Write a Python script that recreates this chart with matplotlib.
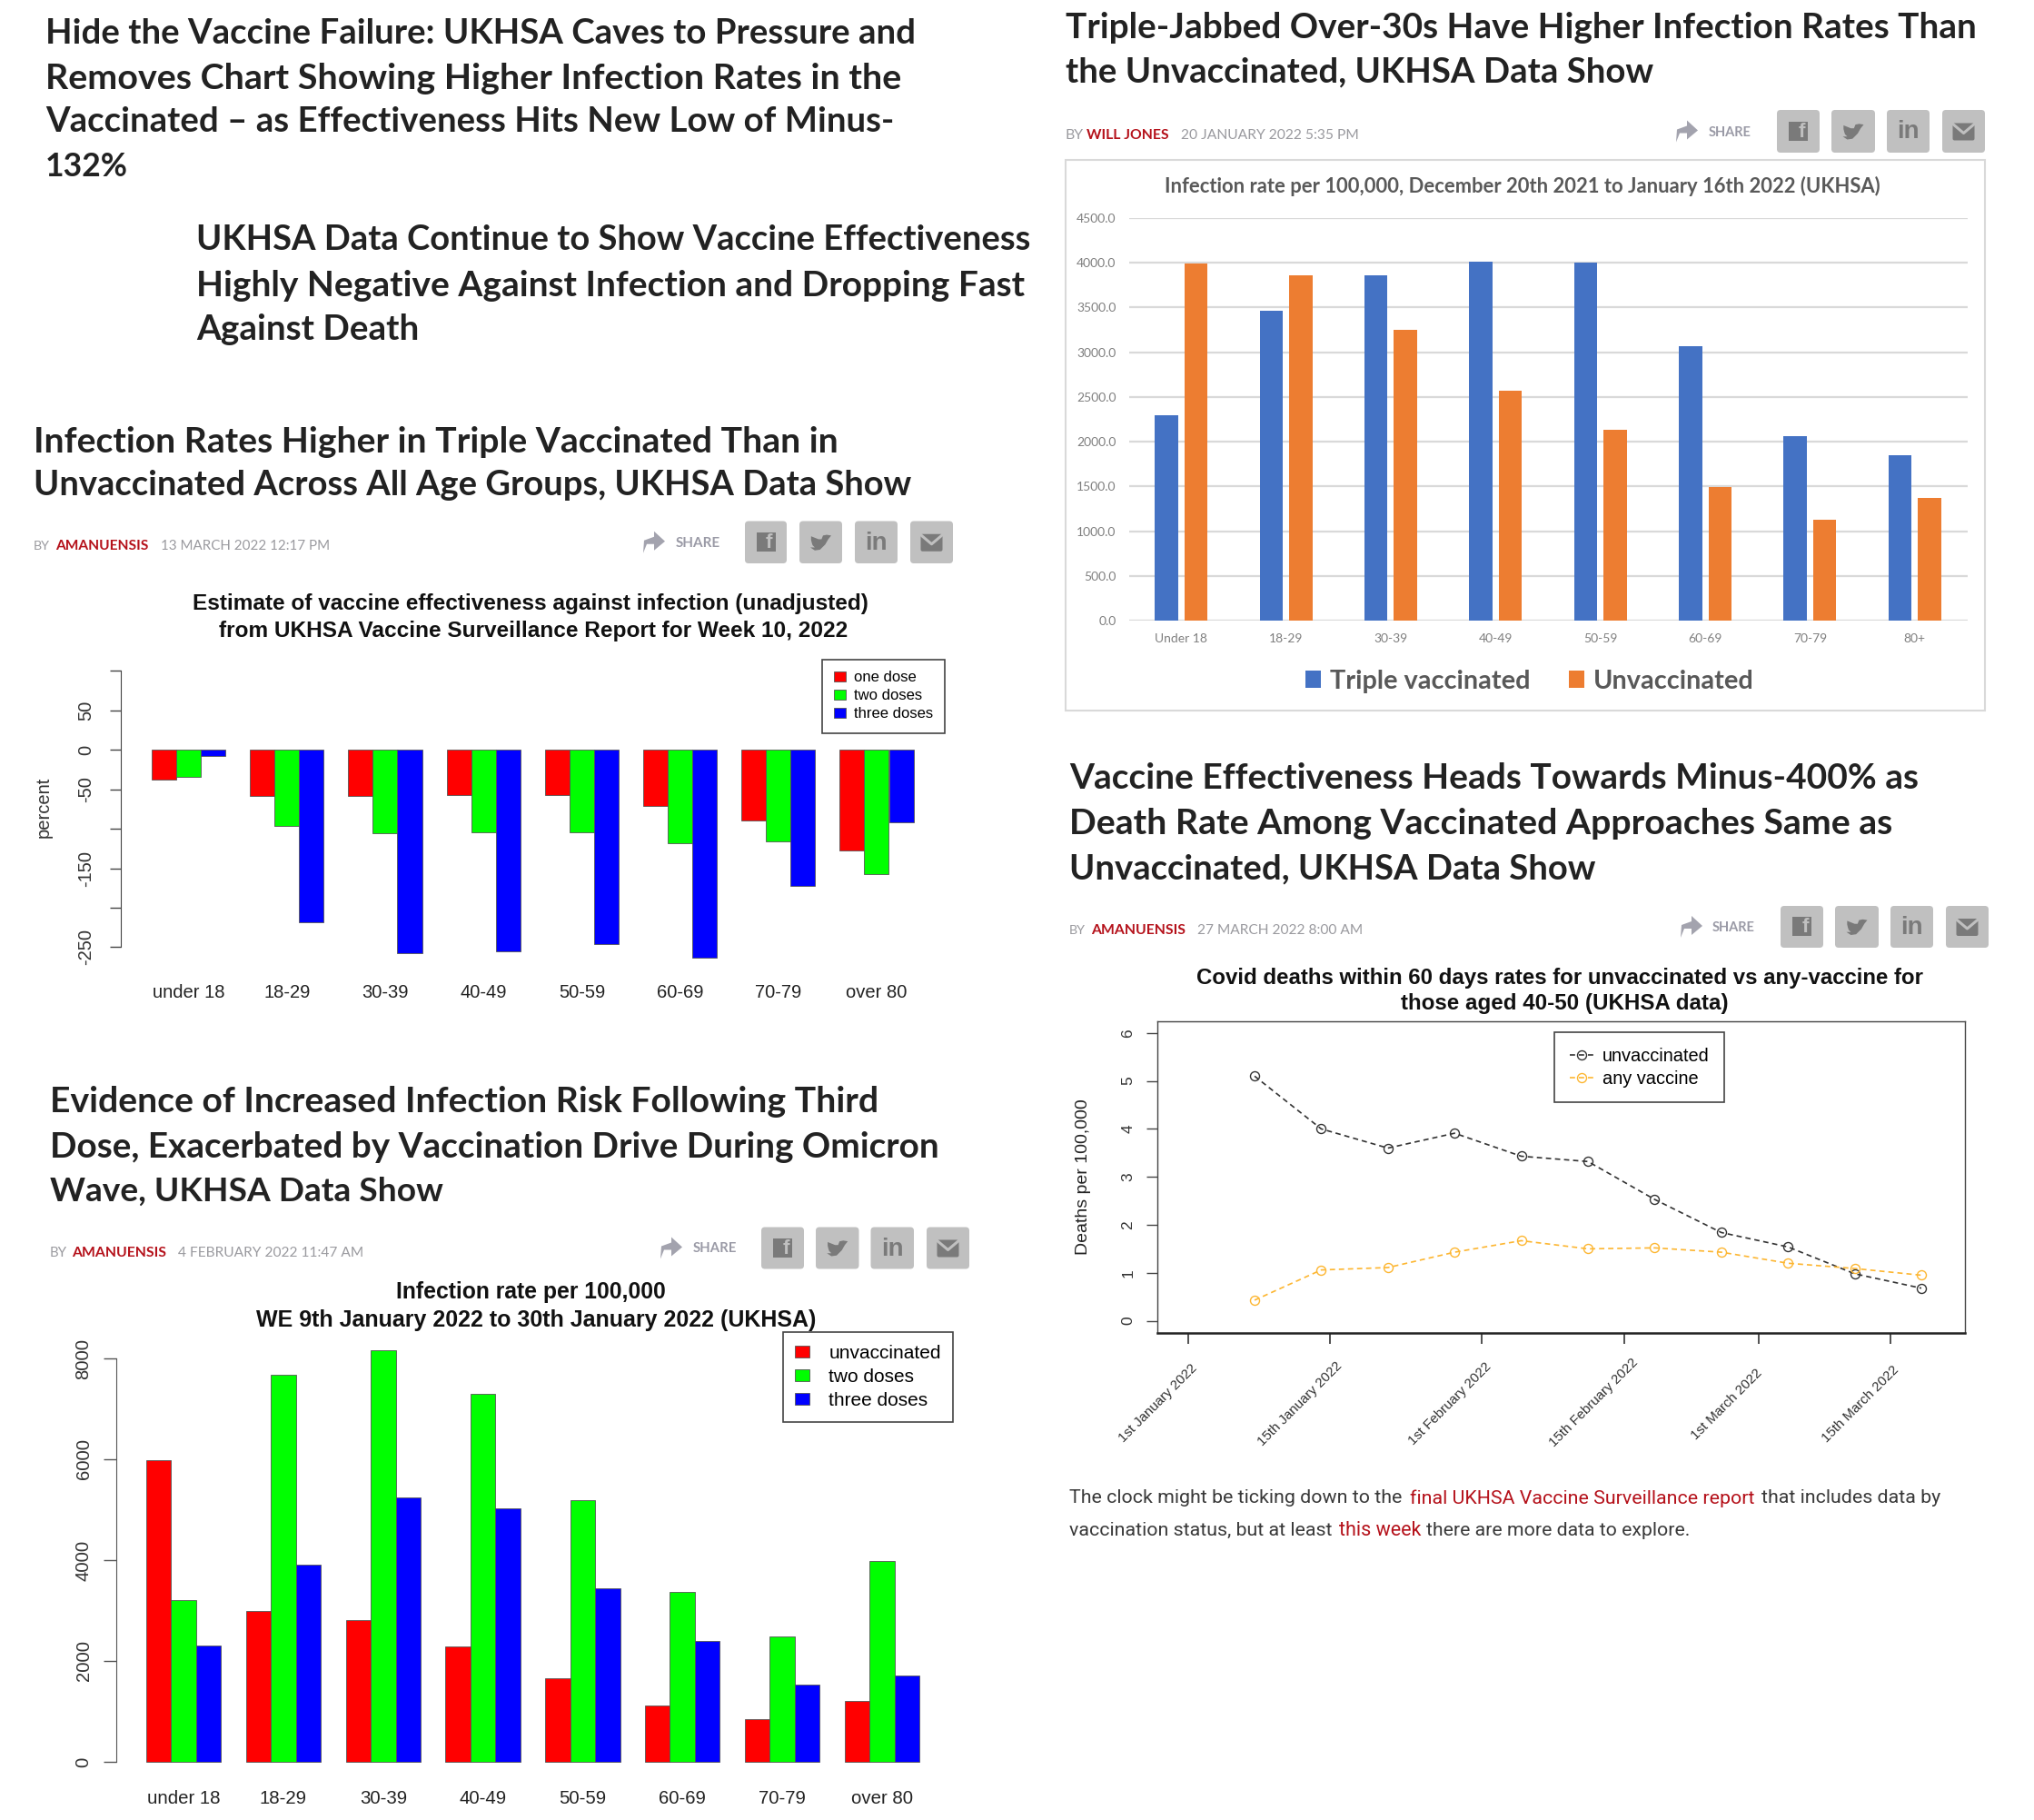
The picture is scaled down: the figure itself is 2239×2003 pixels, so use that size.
import numpy as np
import matplotlib
matplotlib.use("Agg")
import matplotlib.pyplot as plt
from matplotlib.patches import FancyBboxPatch, Rectangle, Polygon
from matplotlib.transforms import ScaledTranslation

# ---------- data ----------
ages_r = ["under 18", "18-29", "30-39", "40-49", "50-59", "60-69", "70-79", "over 80"]
ages_xl = ["Under 18", "18-29", "30-39", "40-49", "50-59", "60-69", "70-79", "80+"]

ve_one = [-38, -58, -58, -57, -57, -71, -89, -127]
ve_two = [-34, -97, -106, -104, -104, -118, -116, -157]
ve_three = [-8, -218, -258, -255, -246, -263, -173, -92]
ve_ticks = [100, 50, 0, -50, -100, -150, -200, -250]
ve_ticklabels = ["", "50", "0", "-50", "", "-150", "", "-250"]

triple = [2295, 3460, 3855, 4015, 4000, 3065, 2065, 1845]
unvacc = [3990, 3855, 3250, 2570, 2130, 1495, 1130, 1375]
xl_ticks = [0, 500, 1000, 1500, 2000, 2500, 3000, 3500, 4000, 4500]

ir_unvacc = [5990, 3000, 2810, 2285, 1660, 1115, 850, 1200]
ir_two = [3208, 7674, 8167, 7295, 5194, 3374, 2487, 3981]
ir_three = [2298, 3905, 5240, 5028, 3435, 2396, 1539, 1706]
ir_ticks = [0, 2000, 4000, 6000, 8000]

deaths_unvacc = [5.10, 4.00, 3.60, 3.91, 3.43, 3.32, 2.53, 1.84, 1.54, 0.98, 0.68]
deaths_any = [0.43, 1.06, 1.11, 1.43, 1.67, 1.50, 1.52, 1.43, 1.20, 1.09, 0.95]
date_pos = [-0.993, 1.134, 3.40, 5.55, 7.56, 9.54]
date_labels = ["1st January 2022", "15th January 2022", "1st February 2022",
               "15th February 2022", "1st March 2022", "15th March 2022"]

# ---------- canvas ----------
W, H = 2239, 2003
fig = plt.figure(figsize=(W / 100, H / 100), dpi=100, facecolor="white")
bg = fig.add_axes([0, 0, 1, 1], zorder=0)
bg.set_xlim(0, W)
bg.set_ylim(H, 0)
bg.axis("off")
rend = fig.canvas.get_renderer()

SANS = ["Liberation Sans", "DejaVu Sans"]
NARROW = ["Lato", "Liberation Sans", "DejaVu Sans"]
INK = "#222222"
GREY = "#9a9a9f"
REDT = "#b5121b"
BTN = "#c0c0c0"
ICON = "#7a7a7a"


def T(x, y, s, x1=None, size=14, family=SANS, weight="normal", color="black", ha="left"):
    t = bg.text(x, y + 3, s, fontsize=size, family=family, weight=weight, color=color,
                ha=ha, va="center")
    if x1 is not None:
        w = t.get_window_extent(rend).width
        t.set_fontsize(size * (x1 - x) / w)
    return t


def C(x0, x1, y, s, **kw):
    """Bold R-style title line fitted between two x positions."""
    return T(x0, y, s, x1=x1, weight="bold", color="#111111", size=15, **kw)


def headline(x, y, s, x1):
    T(x, y, s, x1=x1, size=30, family=NARROW, weight="bold", color=INK)


def meta(y, by, name, date):
    T(by[0], y, "BY", x1=by[1], size=11, family=NARROW, color=GREY)
    T(name[0], y, name[2], x1=name[1], size=11, family=NARROW, weight="bold", color=REDT)
    T(date[0], y, date[2], x1=date[1], size=11, family=NARROW, color=GREY)


def share(ax0, tx, btns, y0, y1):
    ym = (y0 + y1) / 2
    a = ax0
    verts = [(a, ym + 12), (a + 1, ym - 2), (a + 12, ym - 6), (a + 12, ym - 12), (a + 24, ym - 1),
             (a + 12, ym + 9), (a + 12, ym + 2), (a + 4, ym + 2)]
    bg.add_patch(Polygon(verts, closed=True, fc="#a3a3ae", ec="none"))
    T(tx[0], ym - 2, "SHARE", x1=tx[1], size=11, family=NARROW, weight="bold", color="#9a9aa6")
    for b0, b1 in btns:
        bg.add_patch(FancyBboxPatch((b0 + 3, y0 + 3), b1 - b0 - 6, y1 - y0 - 6,
                                    boxstyle="round,pad=3,rounding_size=4", fc=BTN, ec="none"))
    cs = [(b0 + b1) / 2 for b0, b1 in btns]
    c = cs[0]
    bg.add_patch(Rectangle((c - 10.5, ym - 11), 21, 21, fc=ICON, ec="none"))
    bg.text(c + 3.5, ym + 1, "f", family=SANS, weight="bold", fontsize=16, color=BTN, ha="center", va="center")
    c = cs[1]
    k = 0.82
    bird = [(-14, 7), (-8, 7), (-11, 4), (-12, 1), (-13, -3), (-13, -8), (-3, -4), (1, -4), (3, -9),
            (8, -10), (14, -9), (10, -4), (6, 3), (-1, 10), (-8, 11)]
    bg.add_patch(Polygon([(c + k * dx, ym + k * dy) for dx, dy in bird], closed=True, fc=ICON, ec="none"))
    c = cs[2]
    bg.text(c, ym + 1, "in", family=SANS, weight="bold", fontsize=20, color=ICON, ha="center", va="center")
    c = cs[3]
    bg.add_patch(FancyBboxPatch((c - 12, ym - 9), 24, 19, boxstyle="round,pad=0,rounding_size=2", fc=ICON, ec="none"))
    bg.plot([c - 13, c, c + 13], [ym - 9, ym + 2, ym - 9], color=BTN, lw=2.2)


def axpx(x0, y0, x1, y1):
    ax = fig.add_axes([x0 / W, 1 - y1 / H, (x1 - x0) / W, (y1 - y0) / H], zorder=2)
    ax.patch.set_alpha(0)
    return ax


def figleg(ax, handles, labels, x, y, loc="upper left", **kw):
    return ax.legend(handles, labels, loc=loc, bbox_to_anchor=(x / W, 1 - y / H),
                     bbox_transform=fig.transFigure, borderaxespad=0, **kw)


# ---------- headlines ----------
for x, y, s, x1 in [
    (50, 34, "Hide the Vaccine Failure: UKHSA Caves to Pressure and", 1005),
    (50, 83, "Removes Chart Showing Higher Infection Rates in the", 990),
    (50, 131, "Vaccinated \u2013 as Effectiveness Hits New Low of Minus-", 984),
    (50, 181, "132%", 141),
    (216, 261, "UKHSA Data Continue to Show Vaccine Effectiveness", 1134),
    (216, 311, "Highly Negative Against Infection and Dropping Fast", 1128),
    (216, 360, "Against Death", 461),
    (37, 483, "Infection Rates Higher in Triple Vaccinated Than in", 921),
    (37, 531, "Unvaccinated Across All Age Groups, UKHSA Data Show", 1002),
    (55, 1210, "Evidence of Increased Infection Risk Following Third", 967),
    (55, 1260, "Dose, Exacerbated by Vaccination Drive During Omicron", 1034),
    (55, 1308, "Wave, UKHSA Data Show", 488),
    (1173, 27, "Triple-Jabbed Over-30s Have Higher Infection Rates Than", 2176),
    (1173, 76, "the Unvaccinated, UKHSA Data Show", 1819),
    (1177, 854, "Vaccine Effectiveness Heads Towards Minus-400% as", 2110),
    (1177, 904, "Death Rate Among Vaccinated Approaches Same as", 2083),
    (1177, 953, "Unvaccinated, UKHSA Data Show", 1755),
]:
    headline(x, y, s, x1)

# ---------- bylines ----------
meta(598, (37, 55), (61, 163, "AMANUENSIS"), (177, 362, "13 MARCH 2022 12:17 PM"))
share(708, (744, 793), [(820, 866), (880, 927), (941, 988), (1002, 1049)], 573.5, 620)
meta(146, (1172, 1192), (1196.5, 1287, "WILL JONES"), (1300, 1496, "20 JANUARY 2022 5:35 PM"))
share(1845, (1881, 1928), [(1956, 2003), (2016, 2064), (2077, 2124), (2138, 2185)], 121, 168)
meta(1021.5, (1177, 1195), (1201, 1304.5, "AMANUENSIS"), (1317.5, 1500.5, "27 MARCH 2022 8:00 AM"))
share(1850, (1885, 1932), [(1960, 2007), (2020, 2068), (2081, 2128), (2142, 2189)], 997, 1043)
meta(1376, (55, 74), (79, 182.5, "AMANUENSIS"), (195.5, 399, "4 FEBRUARY 2022 11:47 AM"))
share(727, (762.5, 810.5), [(838, 885), (898, 945.5), (958.5, 1006), (1020, 1067)], 1350.5, 1396.5)

# ---------- chart A: vaccine effectiveness ----------
C(212.5, 959.5, 662, "Estimate of vaccine effectiveness against infection (unadjusted)")
C(241, 937, 691, "from UKHSA Vaccine Surveillance Report for Week 10, 2022")
axA = axpx(133, 738.5, 1040, 1070)
U = 108.2 / 4
axA.set_xlim(1 - 34 / U, 1 + 873 / U)
axA.set_ylim(100 - (1070 - 738.5) / 0.868, 100)
starts = 1 + 4 * np.arange(len(ages_r))
barkw = dict(width=1, align="edge", edgecolor="#555555", linewidth=0.6)
h1 = axA.bar(starts, ve_one, color="#ff0000", **barkw)
h2 = axA.bar(starts + 1, ve_two, color="#00ff00", **barkw)
h3 = axA.bar(starts + 2, ve_three, color="#0000ff", **barkw)
for s in ["top", "right", "bottom"]:
    axA.spines[s].set_visible(False)
axA.spines["left"].set_bounds(-250, 100)
axA.spines["left"].set_color("#444444")
axA.set_yticks(ve_ticks)
axA.set_yticklabels(ve_ticklabels, rotation=90, va="center", fontsize=14.5, family=SANS, color="#333333")
axA.tick_params(axis="y", length=9, width=1, color="#444444", pad=12)
axA.set_xticks(starts + 1.5)
axA.set_xticklabels(ages_r, fontsize=14.5, family=SANS, color="#222222")
axA.tick_params(axis="x", length=0, pad=9)
T(48, 885, "percent", size=14.5, color="#333333", ha="center").set(rotation=90)
figleg(axA, [h1, h2, h3], ["one dose", "two doses", "three doses"], 905, 725.5,
       fancybox=False, edgecolor="#444444", framealpha=1, labelspacing=0.3, handlelength=0.78,
       handleheight=0.66, handletextpad=0.56, borderpad=0.78, prop={"family": SANS, "size": 12}).get_frame().set_linewidth(1.2)

# ---------- chart D: infection rate R bars ----------
C(436.5, 736, 1419.5, "Infection rate per 100,000")
C(281.5, 900, 1450, "WE 9th January 2022 to 30th January 2022 (UKHSA)")
axD = axpx(128, 1470, 1050, 1955)
U = 109.8 / 4
axD.set_xlim(1 - 33 / U, 1 + 889 / U)
axD.set_ylim(-16 / 0.0555, (1939 - 1470) / 0.0555)
h1 = axD.bar(starts, ir_unvacc, color="#ff0000", **barkw)
h2 = axD.bar(starts + 1, ir_two, color="#00ff00", **barkw)
h3 = axD.bar(starts + 2, ir_three, color="#0000ff", **barkw)
for s in ["top", "right", "bottom"]:
    axD.spines[s].set_visible(False)
axD.spines["left"].set_bounds(0, 8000)
axD.spines["left"].set_color("#555555")
axD.set_yticks(ir_ticks)
axD.set_yticklabels([str(v) for v in ir_ticks], rotation=90, va="center", fontsize=14.6, family=SANS, color="#333333")
axD.tick_params(axis="y", length=10, width=1, color="#555555", pad=9)
axD.set_xticks(starts + 1.5)
axD.set_xticklabels(ages_r, fontsize=14.7, family=SANS, color="#222222")
axD.tick_params(axis="x", length=0, pad=11)
figleg(axD, [h1, h2, h3], ["unvaccinated", "two doses", "three doses"], 861.5, 1466,
       fancybox=False, edgecolor="#444444", framealpha=1, labelspacing=0.34, handlelength=0.77,
       handleheight=0.62, handletextpad=1.0, borderpad=0.66, prop={"family": SANS, "size": 15}).get_frame().set_linewidth(1.2)

# ---------- chart B: Excel-style bars ----------
bg.add_patch(Rectangle((1172.5, 175.5), 1012.5, 606.5, fc="white", ec="#d9d9d9", lw=1.5))
LATO = ["Lato", "DejaVu Sans"]
T(1282.5, 201.5, "Infection rate per 100,000, December 20th 2021 to January 16th 2022 (UKHSA)", x1=2074,
  size=14, family=LATO, weight="bold", color="#595959")
axB = axpx(1242.5, 239.7, 2165.5, 683.3)
xb = np.arange(len(ages_xl))
axB.set_xlim(-0.5, len(ages_xl) - 0.5)
axB.set_ylim(0, 4500)
bw = 25.5 / 115.3
off = 16.2 / 115.3
hb = axB.bar(xb - off, triple, width=bw, color="#4472c4", zorder=3)
ho = axB.bar(xb + off, unvacc, width=bw, color="#ed7d31", zorder=3)
for s in axB.spines.values():
    s.set_visible(False)
axB.set_yticks(xl_ticks)
axB.set_yticklabels(["%.1f" % v for v in xl_ticks], fontsize=10, family=LATO, color="#7f7f7f")
axB.grid(axis="y", color="#d9d9d9", lw=1.6, zorder=0)
axB.set_axisbelow(True)
axB.tick_params(axis="y", length=0, pad=10)
axB.set_xticks(xb)
axB.set_xticklabels(ages_xl, fontsize=10, family=LATO, color="#7f7f7f")
axB.tick_params(axis="x", length=0, pad=10)
figleg(axB, [hb, ho], ["Triple vaccinated", "Unvaccinated"], 1684, 750, loc="center", ncol=2,
       frameon=False, columnspacing=1.45, handlelength=0.6, handleheight=0.64, handletextpad=0.35,
       prop={"family": LATO, "size": 20.8, "weight": "bold"}, labelcolor="#595959")

# ---------- chart C: deaths lines ----------
C(1317, 2121.5, 1073, "Covid deaths within 60 days rates for unvaccinated vs any-vaccine for")
C(1542, 1903, 1102, "those aged 40-50 (UKHSA data)")
axC = axpx(1274, 1124, 2162.7, 1466.5)
axC.set_xlim(-107 / 73.4, (2162.7 - 1381) / 73.4)
axC.set_ylim(-12.9 / 52.8, (1453.6 - 1124) / 52.8)
wk = np.arange(len(deaths_unvacc))
lkw = dict(ls="--", lw=1.2, marker="o", ms=7.2, mfc="none", mew=1.0, dashes=(3.5, 2.5))
l1, = axC.plot(wk, deaths_unvacc, color="#333333", **lkw)
l2, = axC.plot(wk, deaths_any, color="#fdb631", **lkw)
for s in axC.spines.values():
    s.set_color("#444444")
    s.set_linewidth(1.0)
axC.spines["bottom"].set_linewidth(1.8)
axC.spines["bottom"].set_color("#222222")
axC.set_yticks(range(7))
axC.set_yticklabels([str(v) for v in range(7)], rotation=90, va="center", fontsize=12.5, family=SANS, color="#333333")
axC.tick_params(axis="y", length=8.6, width=1, color="#444444", pad=9)
axC.set_ylabel("Deaths per 100,000", fontsize=14, family=SANS, color="#222222", labelpad=24)
axC.set_xticks(date_pos)
axC.set_xticklabels(date_labels, rotation=45, ha="right", va="center", rotation_mode="anchor",
                    fontsize=10.8, family=SANS, color="#333333")
axC.tick_params(axis="x", length=8.6, width=1.2, color="#333333", pad=18)
for lab, dx, dy in zip(axC.get_xticklabels(), [7, 11, 9, 12, 2, 7], [0, -2, -2, -6, 5, 2]):
    lab.set_transform(lab.get_transform() + ScaledTranslation(dx / 100, -dy / 100, fig.dpi_scale_trans))
figleg(axC, [l1, l2], ["unvaccinated", "any vaccine"], 1711, 1136, fancybox=False, edgecolor="#444444",
       framealpha=1, labelspacing=0.3, handlelength=1.3, handletextpad=0.5, borderpad=0.83,
       prop={"family": SANS, "size": 14.4}).get_frame().set_linewidth(1.2)

# ---------- body text ----------
BODY = ["Roboto", "DejaVu Sans"]
BODYC = "#3a3a3a"
T(1177, 1646, "The clock might be ticking down to the", x1=1545, size=14, family=BODY, color=BODYC)
T(1551.5, 1646, "final UKHSA Vaccine Surveillance report", x1=1933.5, size=14, family=BODY, color=REDT)
T(1939, 1646, "that includes data by", x1=2138, size=14, family=BODY, color=BODYC)
T(1177, 1681, "vaccination status, but at least", x1=1468, size=14, family=BODY, color=BODYC)
T(1474, 1681, "this week", x1=1565, size=14, family=BODY, color=REDT)
T(1570, 1681, "there are more data to explore.", x1=1862, size=14, family=BODY, color=BODYC)

fig.savefig("out.png", dpi=100, facecolor="white")
